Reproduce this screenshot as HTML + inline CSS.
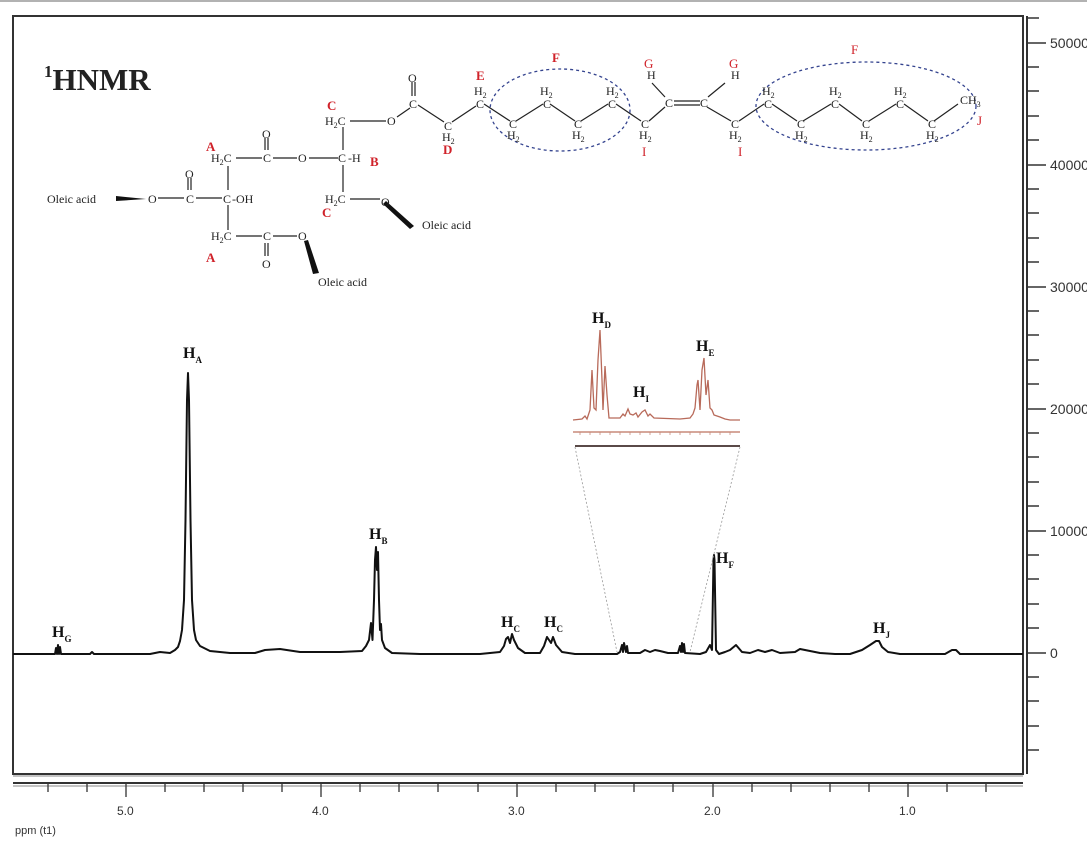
<!DOCTYPE html>
<html><head><meta charset="utf-8"><style>
html,body{margin:0;padding:0;background:#fff;}
svg{display:block;}
.a{font-family:"Liberation Serif",serif;font-size:12px;fill:#222;}
.s{font-size:8px;}
.r{font-family:"Liberation Serif",serif;font-size:13px;fill:#d0222a;font-weight:bold;}
.rn{font-family:"Liberation Serif",serif;font-size:13px;fill:#d0222a;}
.h{font-family:"Liberation Serif",serif;font-size:16px;font-weight:bold;fill:#111;}
.hs{font-size:9px;}
.ax{font-family:"Liberation Sans",sans-serif;font-size:12px;fill:#333;}
</style></head><body>
<svg width="1087" height="851" viewBox="0 0 1087 851" xmlns="http://www.w3.org/2000/svg">
<line x1="0" y1="1" x2="1087" y2="1" stroke="#999" stroke-width="1.5"/>
<rect x="13" y="16" width="1010" height="758" fill="none" stroke="#333" stroke-width="2"/>
<line x1="13" y1="776" x2="1023" y2="776" stroke="#888" stroke-width="1"/>
<line x1="1027" y1="16" x2="1027" y2="774" stroke="#333" stroke-width="2"/>
<g stroke="#333" stroke-width="1.5">
<line x1="1027" y1="18" x2="1039" y2="18"/>
<line x1="1027" y1="43" x2="1046" y2="43"/>
<line x1="1027" y1="67" x2="1039" y2="67"/>
<line x1="1027" y1="91" x2="1039" y2="91"/>
<line x1="1027" y1="116" x2="1039" y2="116"/>
<line x1="1027" y1="140" x2="1039" y2="140"/>
<line x1="1027" y1="165" x2="1046" y2="165"/>
<line x1="1027" y1="189" x2="1039" y2="189"/>
<line x1="1027" y1="213" x2="1039" y2="213"/>
<line x1="1027" y1="238" x2="1039" y2="238"/>
<line x1="1027" y1="262" x2="1039" y2="262"/>
<line x1="1027" y1="287" x2="1046" y2="287"/>
<line x1="1027" y1="311" x2="1039" y2="311"/>
<line x1="1027" y1="335" x2="1039" y2="335"/>
<line x1="1027" y1="360" x2="1039" y2="360"/>
<line x1="1027" y1="384" x2="1039" y2="384"/>
<line x1="1027" y1="409" x2="1046" y2="409"/>
<line x1="1027" y1="433" x2="1039" y2="433"/>
<line x1="1027" y1="457" x2="1039" y2="457"/>
<line x1="1027" y1="482" x2="1039" y2="482"/>
<line x1="1027" y1="506" x2="1039" y2="506"/>
<line x1="1027" y1="531" x2="1046" y2="531"/>
<line x1="1027" y1="555" x2="1039" y2="555"/>
<line x1="1027" y1="579" x2="1039" y2="579"/>
<line x1="1027" y1="604" x2="1039" y2="604"/>
<line x1="1027" y1="628" x2="1039" y2="628"/>
<line x1="1027" y1="653" x2="1046" y2="653"/>
<line x1="1027" y1="677" x2="1039" y2="677"/>
<line x1="1027" y1="701" x2="1039" y2="701"/>
<line x1="1027" y1="726" x2="1039" y2="726"/>
<line x1="1027" y1="750" x2="1039" y2="750"/>
</g>
<g class="ax" style="font-size:14px">
<text x="1050" y="48">50000</text><text x="1050" y="170">40000</text><text x="1050" y="292">30000</text>
<text x="1050" y="414">20000</text><text x="1050" y="536">10000</text><text x="1050" y="658">0</text>
</g>
<line x1="13" y1="783" x2="1023" y2="783" stroke="#333" stroke-width="2"/>
<line x1="13" y1="786" x2="1023" y2="786" stroke="#888" stroke-width="1"/>
<g stroke="#333" stroke-width="1.3">
<line x1="48" y1="784" x2="48" y2="792"/><line x1="87" y1="784" x2="87" y2="792"/>
<line x1="126" y1="784" x2="126" y2="797"/><line x1="165" y1="784" x2="165" y2="792"/>
<line x1="204" y1="784" x2="204" y2="792"/><line x1="243" y1="784" x2="243" y2="792"/>
<line x1="282" y1="784" x2="282" y2="792"/><line x1="321" y1="784" x2="321" y2="797"/>
<line x1="360" y1="784" x2="360" y2="792"/><line x1="399" y1="784" x2="399" y2="792"/>
<line x1="438" y1="784" x2="438" y2="792"/><line x1="478" y1="784" x2="478" y2="792"/>
<line x1="517" y1="784" x2="517" y2="797"/><line x1="556" y1="784" x2="556" y2="792"/>
<line x1="595" y1="784" x2="595" y2="792"/><line x1="634" y1="784" x2="634" y2="792"/>
<line x1="673" y1="784" x2="673" y2="792"/><line x1="713" y1="784" x2="713" y2="797"/>
<line x1="752" y1="784" x2="752" y2="792"/><line x1="791" y1="784" x2="791" y2="792"/>
<line x1="830" y1="784" x2="830" y2="792"/><line x1="869" y1="784" x2="869" y2="792"/>
<line x1="908" y1="784" x2="908" y2="797"/><line x1="947" y1="784" x2="947" y2="792"/>
<line x1="986" y1="784" x2="986" y2="792"/>
</g>
<g class="ax">
<text x="117" y="815">5.0</text><text x="312" y="815">4.0</text><text x="508" y="815">3.0</text>
<text x="704" y="815">2.0</text><text x="899" y="815">1.0</text>
<text x="15" y="834" font-size="11">ppm (t1)</text>
</g>
<path fill="none" stroke="#111" stroke-width="2" stroke-linejoin="round" d="
M13 654 L55 654 L56 648 L57 654 L58 645 L59 654 L60 647 L61 654 L90 654 L92 652 L94 654 L150 654 L160 652 L170 653 L175 650 L178 647 L180 641 L182 630 L184 600 L185.5 520 L187 400 L188 373 L189 400 L190.5 520 L192 600 L194 630 L196 640 L200 646 L210 651 L230 653 L255 653 L265 650 L280 649 L300 652 L340 652 L362 651 L366 646 L369 640 L371 623 L372.5 640 L374 600 L375 560 L376 547 L377 570 L378 552 L379 600 L380 630 L381 624 L382 640 L385 648 L392 653 L420 654 L460 654 L480 654 L500 652 L504 646 L506 639 L508 637 L510 643 L512 634 L514 640 L518 648 L525 653 L540 653 L544 646 L547 637 L549 640 L551 643 L553 637 L556 645 L562 652 L575 654 L617 654 L620 652 L622 645 L623 652 L624 643 L626 652 L627 646 L628 653 L640 653 L645 650 L650 652 L655 650 L660 651 L668 653 L678 653 L680 646 L681 652 L682 643 L683 652 L684 644 L685 653 L700 654 L706 652 L710 645 L712 650 L713.5 560 L714 555 L714.5 560 L716 650 L719 654 L725 652 L730 650 L736 645 L742 652 L750 653 L758 650 L765 652 L772 650 L780 653 L795 652 L800 649 L810 651 L820 653 L835 654 L850 654 L862 650 L870 645 L876 641 L879 641 L882 647 L888 652 L900 654 L945 654 L952 650 L956 650 L960 654 L1023 654"/>
<g class="h">
<text x="52" y="637">H<tspan class="hs" dy="5">G</tspan></text>
<text x="183" y="358">H<tspan class="hs" dy="5">A</tspan></text>
<text x="369" y="539">H<tspan class="hs" dy="5">B</tspan></text>
<text x="501" y="627">H<tspan class="hs" dy="5">C</tspan></text>
<text x="544" y="627">H<tspan class="hs" dy="5">C</tspan></text>
<text x="716" y="563">H<tspan class="hs" dy="5">F</tspan></text>
<text x="873" y="633">H<tspan class="hs" dy="5">J</tspan></text>
</g>
<line x1="575" y1="447" x2="617" y2="652" stroke="#999" stroke-width="0.8" stroke-dasharray="2,2"/>
<line x1="740" y1="447" x2="690" y2="652" stroke="#999" stroke-width="0.8" stroke-dasharray="2,2"/>
<path fill="none" stroke="#b86a5a" stroke-width="1.3" d="M573 420 L582 419 L585 416 L587 419 L590 410 L592 370 L594 408 L596 410 L598 360 L600 330 L602 380 L603 410 L605 366 L607 395 L609 418 L620 418 L623 414 L625 416 L628 409 L630 414 L633 415 L636 413 L638 417 L642 412 L645 410 L648 416 L650 414 L654 418 L680 419 L690 418 L693 414 L695 408 L697 385 L698 380 L700 410 L702 370 L704 358 L706 395 L708 380 L710 408 L712 410 L714 415 L720 417 L725 419 L730 420 L740 420"/>
<line x1="573" y1="432" x2="740" y2="432" stroke="#c88a7a" stroke-width="1.5"/>
<g stroke="#c88a7a" stroke-width="0.8">
<line x1="580" y1="432" x2="580" y2="435"/><line x1="590" y1="432" x2="590" y2="435"/><line x1="600" y1="432" x2="600" y2="435"/><line x1="610" y1="432" x2="610" y2="435"/><line x1="620" y1="432" x2="620" y2="435"/><line x1="630" y1="432" x2="630" y2="435"/><line x1="640" y1="432" x2="640" y2="435"/><line x1="650" y1="432" x2="650" y2="435"/><line x1="660" y1="432" x2="660" y2="435"/><line x1="670" y1="432" x2="670" y2="435"/><line x1="680" y1="432" x2="680" y2="435"/><line x1="690" y1="432" x2="690" y2="435"/><line x1="700" y1="432" x2="700" y2="435"/><line x1="710" y1="432" x2="710" y2="435"/><line x1="720" y1="432" x2="720" y2="435"/><line x1="730" y1="432" x2="730" y2="435"/>
</g>
<line x1="575" y1="446" x2="740" y2="446" stroke="#5a4a48" stroke-width="2"/>
<g class="h" font-size="15">
<text x="592" y="323">H<tspan class="hs" dy="5">D</tspan></text>
<text x="633" y="397">H<tspan class="hs" dy="5">I</tspan></text>
<text x="696" y="351">H<tspan class="hs" dy="5">E</tspan></text>
</g>
<text x="44" y="90" font-family="Liberation Serif,serif" font-size="31" font-weight="bold" fill="#222"><tspan font-size="17" dy="-13">1</tspan><tspan dy="13">HNMR</tspan></text>
<g stroke="#222" stroke-width="1.2" fill="none">
<line x1="158" y1="198" x2="184" y2="198"/>
<line x1="196" y1="198" x2="222" y2="198"/>
<line x1="188" y1="178" x2="188" y2="190"/><line x1="191" y1="178" x2="191" y2="190"/>
<line x1="228" y1="166" x2="228" y2="190"/>
<line x1="228" y1="205" x2="228" y2="230"/>
<line x1="236" y1="158" x2="262" y2="158"/>
<line x1="273" y1="158" x2="297" y2="158"/>
<line x1="309" y1="158" x2="338" y2="158"/>
<line x1="265" y1="138" x2="265" y2="150"/><line x1="268" y1="138" x2="268" y2="150"/>
<line x1="236" y1="236" x2="262" y2="236"/>
<line x1="273" y1="236" x2="297" y2="236"/>
<line x1="265" y1="243" x2="265" y2="256"/><line x1="268" y1="243" x2="268" y2="256"/>
<line x1="343" y1="127" x2="343" y2="150"/>
<line x1="343" y1="165" x2="343" y2="192"/>
<line x1="350" y1="121" x2="386" y2="121"/>
<line x1="350" y1="199" x2="380" y2="199"/>
<line x1="397" y1="117" x2="410" y2="108"/>
<line x1="412" y1="82" x2="412" y2="96"/><line x1="415" y1="82" x2="415" y2="96"/>
<line x1="418" y1="105" x2="444" y2="122"/>
<line x1="452" y1="122" x2="476" y2="106"/>
<polyline points="484,104 510,121"/>
<polyline points="516,121 543,104"/>
<polyline points="550,104 575,121"/>
<polyline points="581,121 608,104"/>
<polyline points="616,104 641,121"/>
<polyline points="649,121 665,107"/>
<line x1="674" y1="101" x2="700" y2="101"/><line x1="674" y1="105" x2="700" y2="105"/>
<line x1="707" y1="107" x2="731" y2="121"/>
<line x1="665" y1="97" x2="652" y2="83"/>
<line x1="708" y1="97" x2="725" y2="83"/>
<polyline points="739,121 764,104"/>
<polyline points="772,104 797,121"/>
<polyline points="803,121 831,104"/>
<polyline points="839,104 862,121"/>
<polyline points="869,121 896,104"/>
<polyline points="904,104 928,121"/>
<polyline points="934,121 958,104"/>
</g>
<polygon points="116,196 116,201 146,199" fill="#111"/>
<polygon points="383,204 386,201 414,226 410,229" fill="#111"/>
<polygon points="304,241 308,240 319,273 313,274" fill="#111"/>
<ellipse cx="560" cy="110" rx="70" ry="41" fill="none" stroke="#35448f" stroke-width="1.3" stroke-dasharray="3,3"/>
<ellipse cx="866" cy="106" rx="110" ry="44" fill="none" stroke="#35448f" stroke-width="1.3" stroke-dasharray="3,3"/>
<g class="a">
<text x="47" y="203">Oleic acid</text>
<text x="148" y="203">O</text>
<text x="186" y="203">C</text><text x="185" y="178">O</text>
<text x="223" y="203">C</text><text x="232" y="203">-OH</text>
<text x="211" y="162">H<tspan class="s" dy="3">2</tspan><tspan dy="-3">C</tspan></text>
<text x="263" y="162">C</text><text x="262" y="138">O</text>
<text x="298" y="162">O</text>
<text x="338" y="162">C</text><text x="348" y="162">-H</text>
<text x="211" y="240">H<tspan class="s" dy="3">2</tspan><tspan dy="-3">C</tspan></text>
<text x="263" y="240">C</text><text x="262" y="268">O</text>
<text x="298" y="240">O</text>
<text x="318" y="286">Oleic acid</text>
<text x="325" y="125">H<tspan class="s" dy="3">2</tspan><tspan dy="-3">C</tspan></text>
<text x="325" y="203">H<tspan class="s" dy="3">2</tspan><tspan dy="-3">C</tspan></text>
<text x="381" y="206">O</text>
<text x="422" y="229">Oleic acid</text>
<text x="387" y="125">O</text>
<text x="409" y="108">C</text><text x="408" y="82">O</text>
<text x="444" y="130">C</text><text x="442" y="141">H<tspan class="s" dy="3">2</tspan></text>
<text x="476" y="108">C</text><text x="474" y="95">H<tspan class="s" dy="3">2</tspan></text>
<text x="509" y="128">C</text><text x="507" y="139">H<tspan class="s" dy="3">2</tspan></text>
<text x="543" y="108">C</text><text x="540" y="95">H<tspan class="s" dy="3">2</tspan></text>
<text x="574" y="128">C</text><text x="572" y="139">H<tspan class="s" dy="3">2</tspan></text>
<text x="608" y="108">C</text><text x="606" y="95">H<tspan class="s" dy="3">2</tspan></text>
<text x="641" y="128">C</text><text x="639" y="139">H<tspan class="s" dy="3">2</tspan></text>
<text x="665" y="107">C</text><text x="700" y="107">C</text>
<text x="647" y="79">H</text><text x="731" y="79">H</text>
<text x="731" y="128">C</text><text x="729" y="139">H<tspan class="s" dy="3">2</tspan></text>
<text x="764" y="108">C</text><text x="762" y="95">H<tspan class="s" dy="3">2</tspan></text>
<text x="797" y="128">C</text><text x="795" y="139">H<tspan class="s" dy="3">2</tspan></text>
<text x="831" y="108">C</text><text x="829" y="95">H<tspan class="s" dy="3">2</tspan></text>
<text x="862" y="128">C</text><text x="860" y="139">H<tspan class="s" dy="3">2</tspan></text>
<text x="896" y="108">C</text><text x="894" y="95">H<tspan class="s" dy="3">2</tspan></text>
<text x="928" y="128">C</text><text x="926" y="139">H<tspan class="s" dy="3">2</tspan></text>
<text x="960" y="104">CH<tspan class="s" dy="3">3</tspan></text>
</g>
<g class="r">
<text x="206" y="151">A</text><text x="206" y="262">A</text>
<text x="370" y="166">B</text>
<text x="327" y="110">C</text><text x="322" y="217">C</text>
<text x="443" y="154">D</text><text x="476" y="80">E</text>
<text x="552" y="62">F</text>
</g>
<g class="rn">
<text x="644" y="68">G</text><text x="729" y="68">G</text>
<text x="642" y="156">I</text><text x="738" y="156">I</text>
<text x="851" y="54">F</text><text x="977" y="125">J</text>
</g>
</svg>
</body></html>
